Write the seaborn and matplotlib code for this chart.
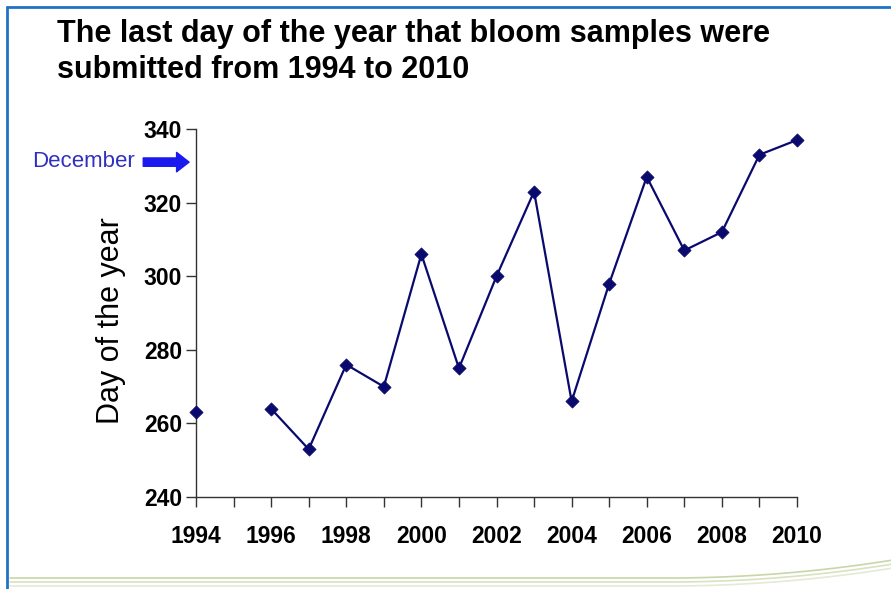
import matplotlib.pyplot as plt
import matplotlib.lines as mlines
import numpy as np
import pandas as pd
import seaborn as sns

# data (1995 has no sample)
years = [1994, 1995, 1996, 1997, 1998, 1999, 2000, 2001, 2002,
         2003, 2004, 2005, 2006, 2007, 2008, 2009, 2010]
last_day = [263, np.nan, 264, 253, 276, 270, 306, 275, 300,
            323, 266, 298, 327, 307, 312, 333, 337]
tick_years = list(range(1994, 2011))
tick_labels = [str(y) if y % 2 == 0 else '' for y in tick_years]

df = pd.DataFrame({'year': years, 'day': last_day})
# split into runs so the gap at 1995 is not bridged
df['run'] = df['day'].isna().cumsum()
df = df.dropna()

sns.set_style('ticks')
plt.rcParams['font.family'] = ['Liberation Sans', 'DejaVu Sans']
plt.rcParams['text.color'] = 'black'
plt.rcParams['axes.labelcolor'] = 'black'
plt.rcParams['xtick.color'] = 'black'
plt.rcParams['ytick.color'] = 'black'

fig = plt.figure(figsize=(8.91, 5.89), dpi=100)
ax = fig.add_axes([0.22, 0.156, 0.6745, 0.625])

navy = '#0a0a6e'
sns.lineplot(data=df, x='year', y='day', units='run', estimator=None,
             color=navy, linewidth=1.6, ax=ax, clip_on=False)
sns.scatterplot(data=df, x='year', y='day', marker='D', s=45,
                color=navy, edgecolor=navy, ax=ax, clip_on=False, zorder=3)

ax.set_xlim(1994, 2010)
ax.set_ylim(240, 340)
ax.set_yticks([240, 260, 280, 300, 320, 340])
ax.set_xticks(tick_years)
ax.set_xticklabels(tick_labels)
ax.tick_params(axis='both', direction='out', length=7, width=1,
               color='#333333', labelsize=16.5, pad=3)
ax.tick_params(axis='x', pad=13)
for lab in ax.get_xticklabels() + ax.get_yticklabels():
    lab.set_fontweight('bold')

for side in ['top', 'right']:
    ax.spines[side].set_visible(False)
for side in ['left', 'bottom']:
    ax.spines[side].set_color('#333333')
    ax.spines[side].set_linewidth(1)

ax.set_xlabel('')
ax.set_ylabel('Day of the year', fontsize=22, labelpad=13)
ax.yaxis.label.set_y(0.48)

# December marker
ax.annotate('', xy=(1994, 331), xytext=(-38, 0), textcoords='offset points',
            xycoords='data', annotation_clip=False,
            arrowprops=dict(arrowstyle='simple,head_length=0.9,head_width=1.4,tail_width=0.6',
                            color='#1a1aee', shrinkA=0, shrinkB=5))
fig.text(135 / 891, 1 - 162 / 589, 'December', color='#3030c0',
         fontsize=16, ha='right', va='center')

fig.text(57 / 891, 1 - 19 / 589,
         'The last day of the year that bloom samples were\nsubmitted from 1994 to 2010',
         fontsize=22, fontweight='bold', ha='left', va='top', linespacing=1.25)

# slide frame
border = '#1f72c8'
fig.add_artist(mlines.Line2D([7 / 891, 7 / 891], [0, 1 - 7 / 589],
                             transform=fig.transFigure, color=border, lw=2))
fig.add_artist(mlines.Line2D([7 / 891, 1], [1 - 7 / 589, 1 - 7 / 589],
                             transform=fig.transFigure, color=border, lw=2))
# faint decorative swoosh at the bottom
xs = np.linspace(10 / 891, 1, 100)
for off, c in [(0, '#c8d6a8'), (4, '#d8e2c0'), (8, '#e4ead4')]:
    ys = (1 - (578 + off) / 589) + 0.03 * np.clip((xs - 0.75) / 0.25, 0, 1) ** 2
    fig.add_artist(mlines.Line2D(xs, ys, transform=fig.transFigure, color=c, lw=1.2))

fig.savefig('out.png', dpi=100)
